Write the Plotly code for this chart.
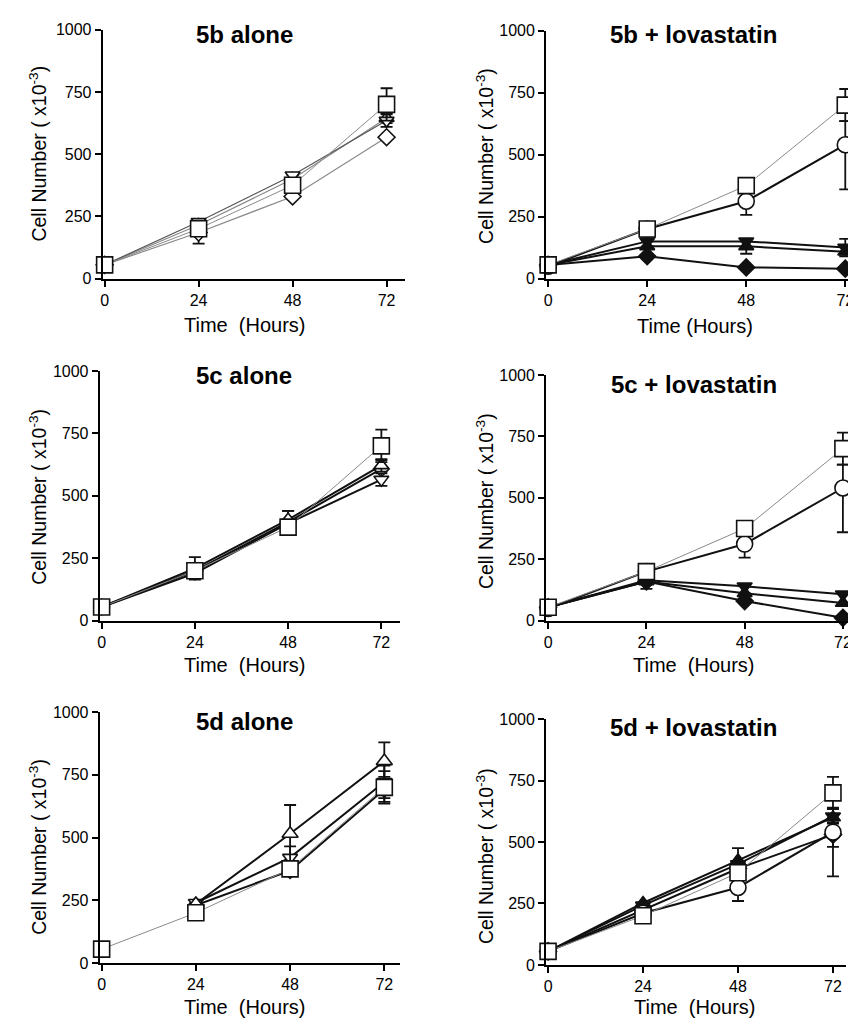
import plotly.graph_objects as go

# The page adds an 8px body margin, so every reference pixel position is shifted
# by that margin; the figure fills the rest of the window.
WIN_W, WIN_H = 856, 1028
OX, OY = 8, 8
W, H = WIN_W - OX, WIN_H - OY

hours = [0, 24, 48, 72]
y_ticks = [0, 250, 500, 750, 1000]
x_ticks = [0, 24, 48, 72]
panel_titles = ["5b alone", "5b + lovastatin", "5c alone", "5c + lovastatin", "5d alone", "5d + lovastatin"]
x_title_texts = ["Time&nbsp; (Hours)", "Time (Hours)", "Time&nbsp; (Hours)",
                 "Time&nbsp; (Hours)", "Time&nbsp; (Hours)", "Time&nbsp; (Hours)"]
y_title_text = "Cell Number ( x10<sup>-3</sup>)"

# control (open square, grey line) - same in every panel
control = [55, 200, 375, 700]
control_err = [0, 0, 0, 65]

# lovastatin alone (open circle)
lova = [50, 200, 312, 540]
lova_err_plus = [0, 0, 0, 95]
lova_err_minus = [0, 0, 55, 180]
lova_d = [55, 210, 315, 540]

# 5b alone
b_alone_up = [55, 215, 400, 645]
b_alone_up_err = [0, 0, 0, 20]
b_alone_down = [55, 228, 415, 635]
b_alone_down_err = [0, 0, 0, 25]
b_alone_dia = [55, 185, 330, 568]
b_alone_dia_err = [0, 45, 0, 0]

# 5b + lovastatin
b_lova_down = [55, 150, 150, 125]
b_lova_down_err = [0, 0, 0, 35]
b_lova_up = [55, 130, 130, 108]
b_lova_up_err = [0, 0, 30, 0]
b_lova_dia = [55, 90, 45, 40]
b_lova_dia_err = [0, 0, 0, 0]

# 5c alone
c_alone_up = [55, 210, 405, 622]
c_alone_up_err = [0, 45, 35, 25]
c_alone_down = [55, 190, 390, 565]
c_alone_down_err = [0, 0, 0, 25]
c_alone_dia = [55, 200, 395, 608]
c_alone_dia_err = [0, 0, 45, 35]

# 5c + lovastatin
c_lova_down = [55, 165, 140, 108]
c_lova_down_err = [0, 35, 0, 0]
c_lova_up = [55, 160, 112, 72]
c_lova_up_err = [0, 0, 0, 0]
c_lova_dia = [55, 160, 80, 12]
c_lova_dia_err = [0, 0, 0, 0]

# 5d alone (treated series start at 24 h)
d_alone_up = [None, 235, 515, 805]
d_alone_up_err = [0, 0, 115, 75]
d_alone_down = [None, 240, 420, 722]
d_alone_down_err = [0, 0, 45, 65]
d_alone_dia = [None, 230, 368, 692]
d_alone_dia_err = [0, 0, 0, 50]

# 5d + lovastatin
d_lova_up = [55, 252, 425, 600]
d_lova_up_err = [0, 0, 50, 40]
d_lova_down = [55, 242, 410, 605]
d_lova_down_err = [0, 0, 0, 30]
d_lova_dia = [55, 225, 392, 530]
d_lova_dia_err = [0, 0, 0, 50]

# ---------------- layout geometry (window pixels) ----------------
panels = [
    dict(l=100, r=403, t=22, b=275, xend=76.6, title=(242, 27), ytitle=(35, 148), xtitle=(242, 322)),
    dict(l=545, r=856, t=23, b=275, xend=74.6, title=(693, 27), ytitle=(483, 150), xtitle=(694, 323)),
    dict(l=97, r=398, t=369, b=623, xend=76.7, title=(242, 374), ytitle=(35, 497), xtitle=(242, 668)),
    dict(l=545, r=856, t=373, b=623, xend=75.2, title=(693, 383), ytitle=(483, 501), xtitle=(693, 668)),
    dict(l=97, r=398, t=716, b=971, xend=75.9, title=(242, 725), ytitle=(35, 853), xtitle=(242, 1016)),
    dict(l=545, r=846, t=723, b=973, xend=75.3, title=(693, 732), ytitle=(483, 862), xtitle=(694, 1016)),
]


def fx(px):
    return (px - OX) / W


def fy(py):
    return 1 - (py - OY) / H


GREY = "#8a8a8a"
BLACK = "#111111"

fig = go.Figure()


def add(idx, y, ep, em, symbol, filled, lcolor, lwidth, size):
    sfx = "" if idx == 0 else str(idx + 1)
    fig.add_trace(go.Scatter(
        x=hours, y=y, mode="lines+markers",
        xaxis="x" + sfx, yaxis="y" + sfx,
        line=dict(color=lcolor, width=lwidth),
        marker=dict(symbol=symbol, size=size,
                    color=BLACK if filled else "white",
                    line=dict(color=BLACK, width=1.6)),
        error_y=dict(type="data", array=ep, arrayminus=em, symmetric=False,
                     color=BLACK, thickness=1.8, width=6),
        cliponaxis=False, showlegend=False, hoverinfo="x+y",
    ))


# panel 1: 5b alone
add(0, b_alone_dia, b_alone_dia_err, b_alone_dia_err, "diamond", False, GREY, 1.2, 13)
add(0, b_alone_up, b_alone_up_err, b_alone_up_err, "triangle-up", False, GREY, 1.2, 13)
add(0, b_alone_down, b_alone_down_err, b_alone_down_err, "triangle-down", False, "#555555", 1.2, 13)
add(0, control, control_err, control_err, "square", False, GREY, 1.0, 16)
# panel 2: 5b + lovastatin
add(1, b_lova_dia, b_lova_dia_err, b_lova_dia_err, "diamond", True, BLACK, 2, 13)
add(1, b_lova_up, b_lova_up_err, b_lova_up_err, "triangle-up", True, BLACK, 2, 13)
add(1, b_lova_down, b_lova_down_err, b_lova_down_err, "triangle-down", True, BLACK, 2, 13)
add(1, lova, lova_err_plus, lova_err_minus, "circle", False, BLACK, 2, 16)
add(1, control, control_err, control_err, "square", False, GREY, 1.0, 16)
# panel 3: 5c alone
add(2, c_alone_dia, c_alone_dia_err, c_alone_dia_err, "diamond", False, BLACK, 2, 12)
add(2, c_alone_up, c_alone_up_err, c_alone_up_err, "triangle-up", False, BLACK, 2, 13)
add(2, c_alone_down, c_alone_down_err, c_alone_down_err, "triangle-down", False, BLACK, 2, 13)
add(2, control, control_err, control_err, "square", False, GREY, 1.0, 16)
# panel 4: 5c + lovastatin
add(3, c_lova_dia, c_lova_dia_err, c_lova_dia_err, "diamond", True, BLACK, 2, 13)
add(3, c_lova_up, c_lova_up_err, c_lova_up_err, "triangle-up", True, BLACK, 2, 13)
add(3, c_lova_down, c_lova_down_err, c_lova_down_err, "triangle-down", True, BLACK, 2, 13)
add(3, lova, lova_err_plus, lova_err_minus, "circle", False, BLACK, 2, 16)
add(3, control, control_err, control_err, "square", False, GREY, 1.0, 16)
# panel 5: 5d alone
add(4, d_alone_dia, d_alone_dia_err, d_alone_dia_err, "diamond", False, BLACK, 2, 12)
add(4, d_alone_down, d_alone_down_err, d_alone_down_err, "triangle-down", False, BLACK, 2, 13)
add(4, d_alone_up, d_alone_up_err, d_alone_up_err, "triangle-up", False, BLACK, 2, 14)
add(4, control, control_err, control_err, "square", False, GREY, 1.0, 16)
# panel 6: 5d + lovastatin
add(5, d_lova_dia, d_lova_dia_err, d_lova_dia_err, "diamond", True, BLACK, 2, 13)
add(5, d_lova_down, d_lova_down_err, d_lova_down_err, "triangle-down", True, BLACK, 2, 13)
add(5, d_lova_up, d_lova_up_err, d_lova_up_err, "triangle-up", True, BLACK, 2, 13)
add(5, lova_d, lova_err_plus, lova_err_minus, "circle", False, BLACK, 2, 16)
add(5, control, control_err, control_err, "square", False, GREY, 1.0, 16)

FONT = "Liberation Sans, Arial, sans-serif"
layout = dict(
    width=W, height=H, margin=dict(l=0, r=0, t=0, b=0),
    paper_bgcolor="white", plot_bgcolor="white",
    font=dict(family=FONT, color="black", size=16),
    annotations=[],
)

for i, p in enumerate(panels):
    sfx = "" if i == 0 else str(i + 1)
    layout["xaxis" + sfx] = dict(
        domain=[fx(p["l"]), fx(p["r"])], range=[-0.5, p["xend"]],
        anchor="y" + sfx, tickvals=x_ticks, ticktext=[str(t) for t in x_ticks],
        showline=True, linecolor="black", linewidth=2, ticks="outside",
        ticklen=6, tickwidth=2, tickcolor="black", showgrid=False, zeroline=False,
        tickfont=dict(size=16, family=FONT), fixedrange=True,
    )
    layout["yaxis" + sfx] = dict(
        domain=[fy(p["b"]), fy(p["t"])], range=[0, 1000],
        anchor="x" + sfx, tickvals=y_ticks, ticktext=[str(t) for t in y_ticks],
        showline=True, linecolor="black", linewidth=2, ticks="outside",
        ticklen=6, tickwidth=2, tickcolor="black", showgrid=False, zeroline=False,
        tickfont=dict(size=16, family=FONT), fixedrange=True,
    )
    tx, ty = p["title"]
    layout["annotations"].append(dict(
        text="<b>" + panel_titles[i] + "</b>", x=fx(tx), y=fy(ty),
        xref="paper", yref="paper", xanchor="center", yanchor="middle",
        showarrow=False, font=dict(size=24, family=FONT)))
    yx, yy = p["ytitle"]
    layout["annotations"].append(dict(
        text=y_title_text, x=fx(yx), y=fy(yy), textangle=-90,
        xref="paper", yref="paper", xanchor="center", yanchor="middle",
        showarrow=False, font=dict(size=19.5, family=FONT)))
    xx, xy = p["xtitle"]
    layout["annotations"].append(dict(
        text=x_title_texts[i], x=fx(xx), y=fy(xy),
        xref="paper", yref="paper", xanchor="center", yanchor="middle",
        showarrow=False, font=dict(size=20, family=FONT)))

fig.update_layout(**layout)
fig.write_html("out.html")
